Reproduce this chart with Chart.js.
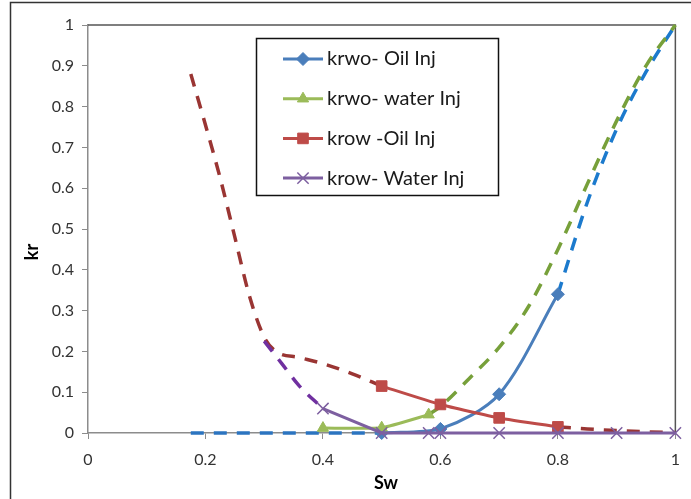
<!DOCTYPE html>
<html>
<head>
<meta charset="utf-8">
<script src="https://cdn.jsdelivr.net/npm/chart.js@4/dist/chart.umd.min.js"></script>
<style>
  html, body { margin: 0; padding: 0; background: #fff; }
  #wrap { position: relative; width: 691px; height: 499px; }
</style>
</head>
<body>
<div id="wrap"><canvas id="krChart" width="691" height="499"></canvas></div>
<script>
// measured points (solid series, with markers)
const oilInjSw = [0.5, 0.6, 0.7, 0.8];
const krwoOilInj = [0, 0.01, 0.095, 0.34];
const waterInjSw = [0.4, 0.5, 0.58];
const krwoWaterInj = [0.012, 0.013, 0.045];
const krowOilSw = [0.5, 0.6, 0.7, 0.8];
const krowOilInj = [0.115, 0.07, 0.037, 0.015];
const krowWaterSw = [0.4, 0.5, 0.58, 0.6, 0.7, 0.8, 0.9, 1.0];
const krowWaterInj = [0.06, 0, 0, 0, 0, 0, 0, 0];

// extrapolated dashed parts
const krwoOilLowSw = [0.175, 0.5];
const krwoOilLow = [0, 0];
const krwoOilHighSw = [0.8, 0.85, 0.9, 0.95, 1.0];
const krwoOilHigh = [0.34, 0.565, 0.745, 0.885, 1.0];
const krwoWaterHighSw = [0.58, 0.6, 0.65, 0.7, 0.75, 0.8, 0.85, 0.9, 0.95, 1.0];
const krwoWaterHigh = [0.045, 0.065, 0.135, 0.21, 0.31, 0.45, 0.61, 0.765, 0.9, 1.0];
const krowOilLeftSw = [0.175, 0.2, 0.225, 0.25, 0.275, 0.3, 0.32, 0.36, 0.4, 0.45, 0.5];
const krowOilLeft = [0.88, 0.755, 0.625, 0.48, 0.335, 0.235, 0.2, 0.185, 0.17, 0.145, 0.115];
const krowOilRightSw = [0.8, 0.85, 0.9, 0.95, 1.0];
const krowOilRight = [0.015, 0.01, 0.006, 0.003, 0.001];
const krowWaterLeftSw = [0.3, 0.33, 0.36, 0.4];
const krowWaterLeft = [0.225, 0.17, 0.115, 0.06];

const xTickLabels = ['0', '0.2', '0.4', '0.6', '0.8', '1'];
const yTickLabels = ['0', '0.1', '0.2', '0.3', '0.4', '0.5', '0.6', '0.7', '0.8', '0.9', '1'];

const FONT = 'Lato, "Liberation Sans", sans-serif';

function pts(xs, ys) {
    return xs.map((x, i) => ({ x: x, y: ys[i] }));
}

function solid(label, xs, ys, color, style, radius, order, tension) {
    return {
        label: label,
        data: pts(xs, ys),
        borderColor: color,
        backgroundColor: color,
        borderWidth: 3,
        pointStyle: style,
        pointRadius: radius,
        pointBorderWidth: style === 'crossRot' ? 1.5 : 1,
        pointBorderColor: color,
        showLine: true,
        tension: tension,
        clip: false,
        order: order,
        inLegend: true
    };
}

function dashed(xs, ys, color, order) {
    return {
        label: '',
        data: pts(xs, ys),
        borderColor: color,
        borderWidth: 3.5,
        borderDash: [13, 10],
        pointRadius: 0,
        showLine: true,
        cubicInterpolationMode: 'monotone',
        clip: false,
        order: order,
        inLegend: false
    };
}

const datasets = [
    solid('krwo- Oil Inj', oilInjSw, krwoOilInj, '#4A7EBB', 'rectRot', 6.5, 4, 0.3),
    solid('krwo- water Inj', waterInjSw, krwoWaterInj, '#9BBB59', 'triangle', 6.5, 3, 0.15),
    solid('krow -Oil Inj', krowOilSw, krowOilInj, '#BE4B48', 'rect', 7.5, 2, 0.15),
    solid('krow- Water Inj', krowWaterSw, krowWaterInj, '#7D5FA0', 'crossRot', 8, 0, 0),
    dashed(krwoOilLowSw, krwoOilLow, '#2B74C0', 9),
    dashed(krwoOilHighSw, krwoOilHigh, '#1C7ACD', 6),
    dashed(krwoWaterHighSw, krwoWaterHigh, '#77A03A', 5),
    dashed(krowOilLeftSw, krowOilLeft, '#9A3533', 8),
    dashed(krowOilRightSw, krowOilRight, '#9A3533', 7),
    dashed(krowWaterLeftSw, krowWaterLeft, '#7030A0', 1)
];

// frame, legend box and axis titles
const decor = {
    id: 'decor',
    beforeDatasetsDraw(chart) {
        const ctx = chart.ctx;
        const a = chart.chartArea;
        ctx.save();
        ctx.strokeStyle = '#555';
        ctx.lineWidth = 1.5;
        ctx.beginPath();
        ctx.moveTo(a.left, a.top);
        ctx.lineTo(a.right, a.top);
        ctx.lineTo(a.right, a.bottom);
        ctx.stroke();
        ctx.restore();
    },
    afterDraw(chart) {
        const ctx = chart.ctx;
        ctx.save();
        // outer border
        ctx.strokeStyle = '#333';
        ctx.lineWidth = 1.5;
        ctx.strokeRect(10.5, 2.5, 720, 540);

        // axis titles
        ctx.fillStyle = '#000';
        ctx.font = 'bold 18px ' + FONT;
        ctx.textAlign = 'center';
        ctx.textBaseline = 'middle';
        ctx.fillText('Sw', 386, 483);
        ctx.save();
        ctx.translate(32, 252);
        ctx.rotate(-Math.PI / 2);
        ctx.fillText('kr', 0, 0);
        ctx.restore();

        // legend
        const bx = 256, by = 38, bw = 242, bh = 157;
        ctx.fillStyle = '#fff';
        ctx.fillRect(bx, by, bw, bh);
        ctx.strokeStyle = '#111';
        ctx.lineWidth = 1.5;
        ctx.strokeRect(bx + 0.5, by + 0.5, bw, bh);
        const items = chart.data.datasets.filter(d => d.inLegend);
        items.forEach((d, i) => {
            const cy = 59 + i * 39.7;
            ctx.strokeStyle = d.borderColor;
            ctx.lineWidth = 3;
            ctx.setLineDash([]);
            ctx.beginPath();
            ctx.moveTo(283, cy);
            ctx.lineTo(323, cy);
            ctx.stroke();
            ctx.fillStyle = d.backgroundColor;
            ctx.strokeStyle = d.pointBorderColor;
            ctx.lineWidth = d.pointBorderWidth;
            Chart.helpers.drawPoint(ctx, {
                pointStyle: d.pointStyle,
                radius: d.pointRadius,
                borderWidth: d.pointBorderWidth,
                rotation: 0
            }, 303, cy);
            ctx.fillStyle = '#1a1a1a';
            ctx.font = '20px ' + FONT;
            ctx.textAlign = 'left';
            ctx.textBaseline = 'middle';
            ctx.fillText(d.label, 327, cy);
        });
        ctx.restore();
    }
};

new Chart(document.getElementById('krChart').getContext('2d'), {
    type: 'scatter',
    data: { datasets: datasets },
    options: {
        responsive: false,
        animation: false,
        layout: { padding: { left: 0, right: 14, top: 25, bottom: 0 } },
        plugins: {
            legend: { display: false },
            tooltip: { enabled: false }
        },
        scales: {
            x: {
                type: 'linear',
                min: 0,
                max: 1,
                afterFit: s => { s.height = 66; },
                afterBuildTicks: s => {
                    s.ticks = xTickLabels.map(t => ({ value: parseFloat(t) }));
                },
                ticks: {
                    callback: (v, i) => xTickLabels[i],
                    color: '#333',
                    font: { family: FONT, size: 16 },
                    padding: 11,
                    maxRotation: 0
                },
                grid: { drawOnChartArea: false, drawTicks: true, tickLength: 6, color: '#8c8c8c' },
                border: { color: '#8c8c8c', width: 1.5 }
            },
            y: {
                type: 'linear',
                min: 0,
                max: 1,
                afterFit: s => { s.width = 88; },
                afterBuildTicks: s => {
                    s.ticks = yTickLabels.map(t => ({ value: parseFloat(t) }));
                },
                ticks: {
                    callback: (v, i) => yTickLabels[i],
                    color: '#333',
                    font: { family: FONT, size: 16 },
                    padding: 8
                },
                grid: { drawOnChartArea: false, drawTicks: true, tickLength: 6, color: '#8c8c8c' },
                border: { color: '#8c8c8c', width: 1.5 }
            }
        }
    },
    plugins: [decor]
});
</script>
</body>
</html>
